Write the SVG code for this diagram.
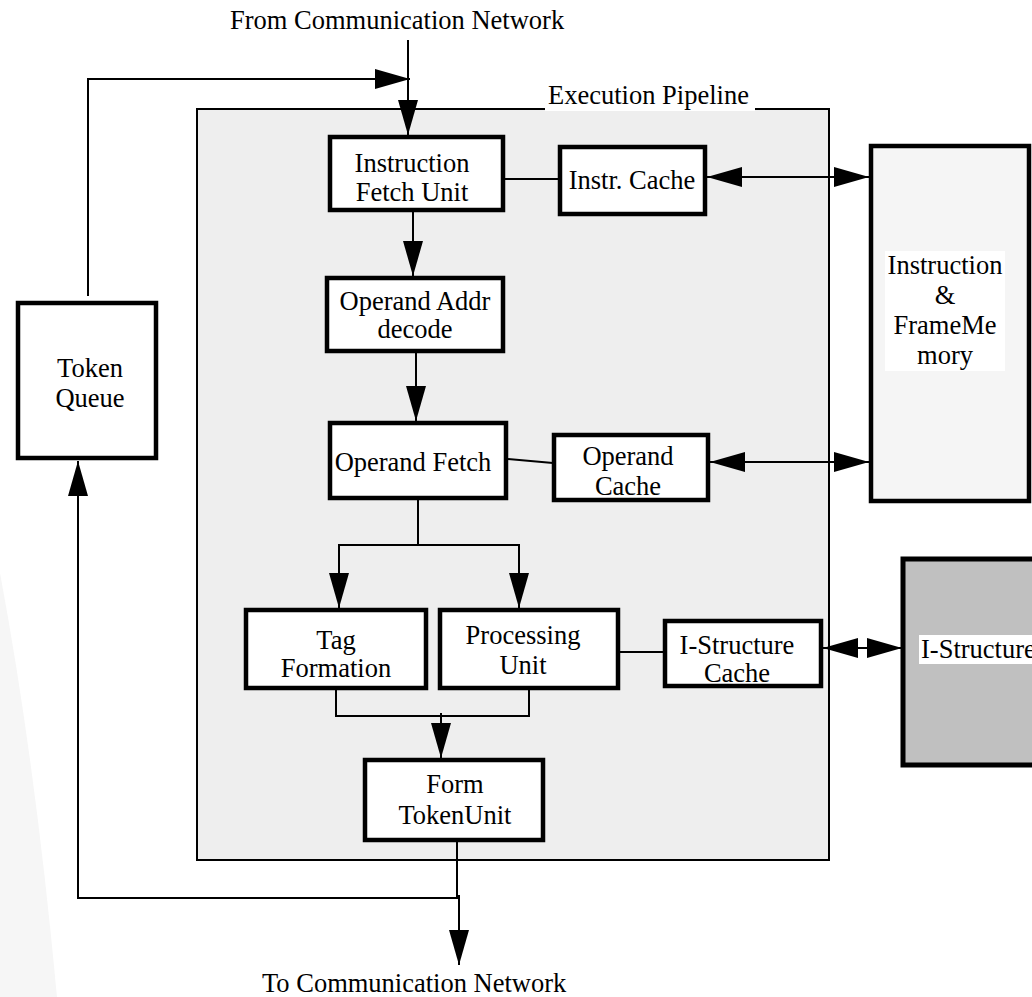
<svg xmlns="http://www.w3.org/2000/svg" width="1032" height="997" viewBox="0 0 1032 997">
<defs>
<marker id="ah" markerUnits="userSpaceOnUse" markerWidth="36" markerHeight="20" refX="35" refY="10" orient="auto-start-reverse">
<path d="M0,0 L35,10 L0,20 Z" fill="#000"/>
</marker>
</defs>
<style>
text{font-family:"Liberation Serif","Times New Roman",serif;font-size:26.5px;fill:#000}
.c{text-anchor:middle}
.box{fill:#fff;stroke:#000;stroke-width:4.5}
.ln{fill:none;stroke:#000;stroke-width:2}
.ar{fill:none;stroke:#000;stroke-width:2;marker-end:url(#ah)}
.ar2{fill:none;stroke:#000;stroke-width:2;marker-start:url(#ah);marker-end:url(#ah)}
</style>
<rect width="1032" height="997" fill="#fff"/>
<path d="M0,573 Q35,760 57,997 L0,997 Z" fill="#f6f6f6"/>

<g id="pipeline">
<rect x="197" y="109" width="632" height="751" fill="#eeeeee" stroke="#000" stroke-width="2"/>
<rect x="545" y="86" width="210" height="25" fill="#fff"/>
<text x="548" y="104">Execution Pipeline</text>
</g>

<g id="labels">
<text x="230" y="29">From Communication Network</text>
<text x="262" y="992">To Communication Network</text>
</g>

<g id="connectors">
<path class="ar" d="M408,40 V135"/>
<path class="ar" d="M88,296 V79 H410"/>
<path class="ar" d="M413,212 V276"/>
<path class="ar" d="M416,352 V421"/>
<path class="ln" d="M505,179 H558"/>
<path class="ar2" d="M707,177 H869"/>
<path class="ln" d="M508,459 L553,463"/>
<path class="ar2" d="M710,462 H869"/>
<path class="ln" d="M418,500 V545 M338,545 H520"/>
<path class="ar" d="M339,545 V608"/>
<path class="ar" d="M519,545 V608"/>
<path class="ln" d="M620,652 H665"/>
<path class="ar2" d="M823,648 H902"/>
<path class="ln" d="M336,690 V716 H529 V690"/>
<path class="ar" d="M441,713 V758"/>
<path class="ln" d="M457,842 V898"/>
<path class="ar" d="M459,898 H78 V461"/>
<path class="ar" d="M459,895 V965"/>
</g>

<g id="token-queue">
<rect class="box" x="18" y="303" width="138" height="155"/>
<text class="c" x="90" y="377">Token</text>
<text class="c" x="90" y="407">Queue</text>
</g>

<g id="instruction-fetch-unit">
<rect class="box" x="330" y="137" width="173" height="73"/>
<text class="c" x="412" y="172">Instruction</text>
<text class="c" x="412" y="201">Fetch Unit</text>
</g>

<g id="instr-cache">
<rect class="box" x="560" y="147" width="145" height="67"/>
<text class="c" x="632" y="189">Instr. Cache</text>
</g>

<g id="memory">
<rect x="871" y="146" width="158" height="355" fill="#f5f5f5" stroke="#000" stroke-width="4.5"/>
<rect x="885" y="251" width="120" height="120" fill="#fff"/>
<text class="c" x="945" y="274">Instruction</text>
<text class="c" x="945" y="304">&amp;</text>
<text class="c" x="945" y="334">FrameMe</text>
<text class="c" x="945" y="364">mory</text>
</g>

<g id="operand-addr-decode">
<rect class="box" x="327" y="278" width="176" height="73"/>
<text class="c" x="415" y="310">Operand Addr</text>
<text class="c" x="415" y="338">decode</text>
</g>

<g id="operand-fetch">
<rect class="box" x="330" y="423" width="176" height="75"/>
<text class="c" x="413" y="471">Operand Fetch</text>
</g>

<g id="operand-cache">
<rect class="box" x="554" y="435" width="154" height="65"/>
<text class="c" x="628" y="465">Operand</text>
<text class="c" x="628" y="495">Cache</text>
</g>

<g id="tag-formation">
<rect class="box" x="246" y="610" width="180" height="78"/>
<text class="c" x="336" y="649">Tag</text>
<text class="c" x="336" y="677">Formation</text>
</g>

<g id="processing-unit">
<rect class="box" x="440" y="610" width="178" height="78"/>
<text class="c" x="523" y="644">Processing</text>
<text class="c" x="523" y="674">Unit</text>
</g>

<g id="i-structure-cache">
<rect class="box" x="665" y="621" width="156" height="65"/>
<text class="c" x="737" y="654">I-Structure</text>
<text class="c" x="737" y="682">Cache</text>
</g>

<g id="i-structure">
<rect x="903" y="559" width="140" height="206" fill="#c0c0c0" stroke="#000" stroke-width="5"/>
<rect x="919" y="635" width="113" height="29" fill="#fff"/>
<text x="921" y="658">I-Structure</text>
</g>

<g id="form-token-unit">
<rect class="box" x="365" y="760" width="178" height="80"/>
<text class="c" x="455" y="793">Form</text>
<text class="c" x="455" y="824">TokenUnit</text>
</g>
</svg>
